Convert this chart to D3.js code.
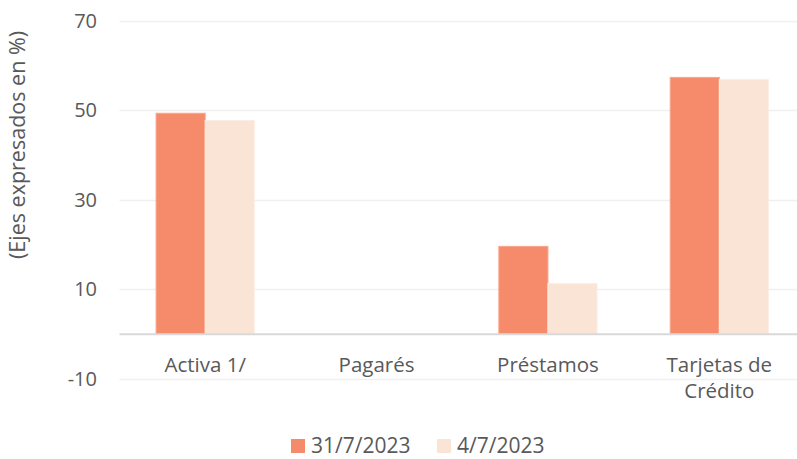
<!DOCTYPE html>
<html>
<head>
<meta charset="utf-8">
<script src="https://cdn.jsdelivr.net/npm/d3@7"></script>
<style>
  body { margin: 0; background: #fff; }
  text { font-family: "Open Sans", sans-serif; fill: #595959; }
</style>
</head>
<body>
<script>
// Data
var categories = ["Activa 1/", "Pagarés", "Préstamos", "Tarjetas de Crédito"];
var seriesNames = ["31/7/2023", "4/7/2023"];
var julio31 = [49.3, null, 19.6, 57.3];
var julio4 = [47.7, null, 11.3, 56.8];
var yTicks = [-10, 10, 30, 50, 70];
var colors = ["#F58B6B", "#FAE4D6"];

var svg = d3.select("body")
            .append("svg")
            .attr("width", 797)
            .attr("height", 459);

// Scales
var x = d3.scaleBand()
  .domain(categories)
  .range([119.5, 805])
  .paddingInner(0.427)
  .paddingOuter(0.2135);

var x1 = d3.scaleBand()
  .domain(seriesNames)
  .range([0, x.bandwidth()]);

var y = d3.scaleLinear().domain([-10, 70]).range([379, 20.5]);

// Gridlines
svg.append("g")
  .selectAll("line")
  .data(yTicks)
  .enter()
  .append("line")
  .attr("x1", 119.5)
  .attr("x2", 797)
  .attr("y1", function(d) { return Math.round(y(d)) + 0.5; })
  .attr("y2", function(d) { return Math.round(y(d)) + 0.5; })
  .style("stroke", "#F0F0F0")
  .style("stroke-width", 1.5);

// Y tick labels
svg.append("g")
  .selectAll("text")
  .data(yTicks)
  .enter()
  .append("text")
  .attr("x", 97)
  .attr("y", function(d) { return y(d); })
  .attr("dy", "0.35em")
  .attr("text-anchor", "end")
  .style("font-size", "20px")
  .text(function(d) { return d; });

// Bars
var rows = categories.map(function(c, i) {
  return { cat: c, vals: [julio31[i], julio4[i]] };
});

var groups = svg.append("g")
  .selectAll("g")
  .data(rows)
  .enter()
  .append("g")
  .attr("transform", function(d) { return "translate(" + x(d.cat) + ",0)"; });

groups.selectAll("rect")
  .data(function(d) {
    return d.vals.map(function(v, j) { return { key: seriesNames[j], v: v, j: j }; })
      .filter(function(e) { return e.v != null; });
  })
  .enter()
  .append("rect")
  .attr("x", function(d) { return x1(d.key); })
  .attr("y", function(d) { return y(d.v); })
  .attr("width", x1.bandwidth())
  .attr("height", function(d) { return y(0) - y(d.v); })
  .style("fill", function(d) { return colors[d.j]; })
  .style("stroke", function(d) { return d.j === 0 ? "#F8A68C" : "#FCEDE4"; })
  .style("stroke-width", 1);

// Zero axis
svg.append("line")
  .attr("x1", 119.5)
  .attr("x2", 797)
  .attr("y1", y(0))
  .attr("y2", y(0))
  .style("stroke", "#D9D9D9")
  .style("stroke-width", 2);

// Category labels
var catLabels = svg.append("g")
  .selectAll("text")
  .data(categories)
  .enter()
  .append("text")
  .attr("x", function(d) { return x(d) + x.bandwidth() / 2; })
  .attr("y", 372)
  .attr("text-anchor", "middle")
  .style("font-size", "20.5px");

catLabels.each(function(d) {
  var t = d3.select(this);
  var lines = d === "Tarjetas de Crédito" ? ["Tarjetas de", "Crédito"] : [d];
  lines.forEach(function(l, i) {
    t.append("tspan")
      .attr("x", t.attr("x"))
      .attr("dy", i === 0 ? 0 : 26)
      .text(l);
  });
});

// Y axis title
svg.append("text")
  .attr("transform", "rotate(-90)")
  .attr("x", -145)
  .attr("y", 25)
  .attr("text-anchor", "middle")
  .style("font-size", "21.5px")
  .text("(Ejes expresados en %)");

// Legend
var legendX = [291, 437];
var legend = svg.append("g")
  .selectAll("g")
  .data(seriesNames)
  .enter()
  .append("g")
  .attr("transform", function(d, i) { return "translate(" + legendX[i] + ",439)"; });

legend.append("rect")
  .attr("width", 14)
  .attr("height", 14)
  .style("fill", function(d, i) { return colors[i]; });

legend.append("text")
  .attr("x", 20)
  .attr("y", 7)
  .attr("dy", "0.35em")
  .style("font-size", "21px")
  .text(function(d) { return d; });
</script>
</body>
</html>
